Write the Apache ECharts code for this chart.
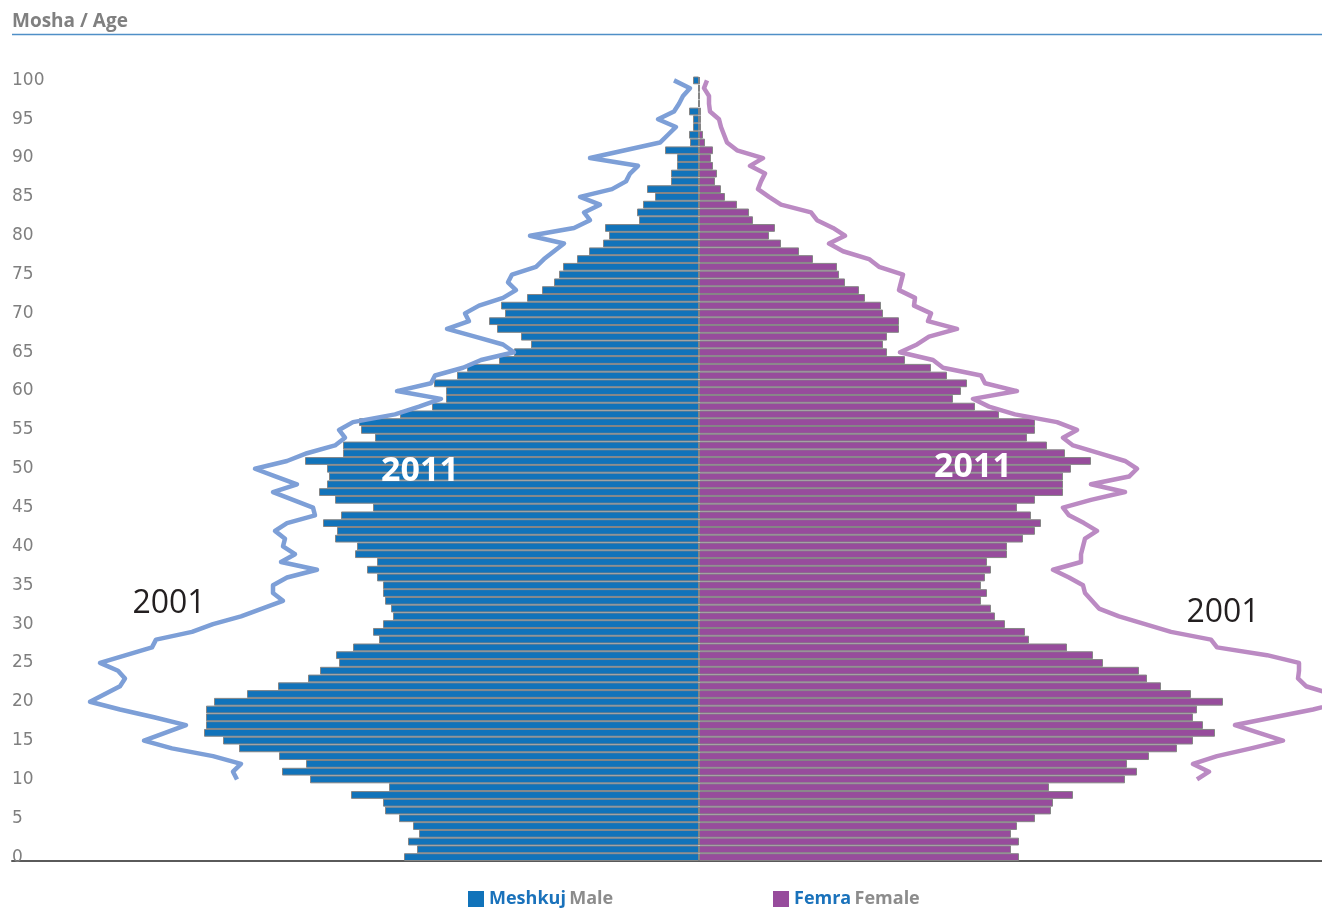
<!DOCTYPE html>
<html>
<head>
<meta charset="utf-8">
<title>Mosha / Age</title>
<script src="https://cdn.jsdelivr.net/npm/echarts@6/dist/echarts.min.js"></script>
<style>
  html, body { margin: 0; padding: 0; background: #fff; }
  #chart { width: 1322px; height: 909px; }
</style>
</head>
<body>
<div id="chart"></div>
<script>
// age groups 0..100 (single years)
var ages = [];
for (var a = 0; a <= 100; a++) ages.push(String(a));

// 2011, males (relative size)
var male2011 = [
  295, 282, 291, 280, 286, 300, 314, 316, 348, 310,
  389, 417, 393, 420, 460, 476, 495, 493, 493, 493,
  485, 452, 421, 391, 379, 360, 363, 346, 320, 326,
  316, 306, 308, 314, 316, 316, 322, 332, 322, 344,
  342, 364, 362, 376, 358, 326, 364, 380, 372, 370,
  372, 394, 356, 356, 324, 338, 340, 299, 267, 253,
  253, 265, 242, 232, 200, 185, 168, 178, 202, 210,
  194, 198, 172, 157, 145, 140, 136, 122, 110, 96,
  90, 94, 60, 62, 56, 44, 52, 28, 28, 22,
  22, 34, 9, 10, 6, 6, 10, 1, 1, 1,
  6
];

// 2011, females
var female2011 = [
  320, 312, 320, 312, 318, 336, 352, 354, 374, 350,
  426, 438, 428, 450, 478, 494, 516, 504, 494, 498,
  524, 492, 462, 448, 440, 404, 394, 368, 330, 326,
  306, 296, 292, 282, 288, 282, 286, 292, 288, 308,
  308, 324, 336, 342, 332, 318, 336, 364, 364, 364,
  372, 392, 366, 348, 328, 336, 336, 300, 276, 254,
  262, 268, 248, 232, 206, 188, 184, 188, 200, 200,
  184, 182, 166, 160, 146, 140, 138, 114, 100, 82,
  70, 76, 54, 50, 38, 26, 22, 16, 18, 14,
  12, 14, 6, 4, 2, 2, 2, 1, 1, 1,
  1
];

// 2001 outline, shifted by ten years (ages 10..100)
var male2001 = [
  462, 466, 458, 486, 527, 555, 534, 513, 545, 579,
  609, 594, 579, 574, 581, 599, 573, 547, 543, 507,
  486, 458, 437, 416, 426, 426, 412, 382, 418, 404,
  416, 414, 424, 412, 384, 386, 406, 426, 402, 423,
  444, 412, 392, 364, 354, 360, 346, 304, 280, 258,
  302, 268, 264, 236, 218, 185, 196, 224, 252, 230,
  234, 220, 196, 183, 191, 187, 163, 155, 145, 135,
  169, 125, 109, 115, 99, 119, 87, 73, 69, 61,
  109, 74, 39, 31, 23, 41, 25, 20, 16, 9,
  25
];

var female2001 = [
  498, 510, 494, 518, 552, 584, 560, 536, 575, 614,
  645, 632, 607, 599, 600, 600, 568, 518, 512, 472,
  446, 420, 400, 393, 386, 384, 370, 354, 382, 382,
  384, 386, 398, 385, 370, 364, 392, 426, 392, 430,
  438, 426, 400, 374, 364, 378, 358, 316, 290, 274,
  318, 286, 282, 244, 234, 201, 218, 230, 258, 229,
  232, 215, 216, 200, 202, 204, 180, 170, 144, 130,
  146, 134, 118, 112, 82, 70, 59, 62, 66, 51,
  64, 38, 28, 25, 22, 20, 11, 10, 10, 5,
  8
];

var startAge2001 = 10;

function pad2001(arr, sign) {
  var out = [];
  for (var i = 0; i < startAge2001; i++) out.push('-');
  arr.forEach(function (v) { out.push(sign * v); });
  return out;
}

var chart = echarts.init(document.getElementById('chart'));

var legendRich = {
  a: { color: '#1a72bb', fontSize: 18, fontWeight: 'bold', fontFamily: 'Open Sans' },
  b: { color: '#8c8c8c', fontSize: 18, fontWeight: 'bold', fontFamily: 'Open Sans' }
};

var option = {
  animation: false,
  backgroundColor: '#fff',
  grid: { left: 12, right: 0, top: 76.5, bottom: 48, containLabel: false },
  legend: [
    {
      data: ['Meshkuj'], left: 468, top: 890, padding: 0, icon: 'rect',
      itemWidth: 16, itemHeight: 16, itemGap: 5, selectedMode: false,
      itemStyle: { borderWidth: 0 },
      formatter: function () { return '{a|Meshkuj} {b|Male}'; },
      textStyle: { rich: legendRich }
    },
    {
      data: ['Femra'], left: 773, top: 890, padding: 0, icon: 'rect',
      itemWidth: 16, itemHeight: 16, itemGap: 5, selectedMode: false,
      itemStyle: { borderWidth: 0 },
      formatter: function () { return '{a|Femra} {b|Female}'; },
      textStyle: { rich: legendRich }
    }
  ],
  xAxis: {
    type: 'value',
    min: -687,
    max: 623,
    axisLine: { show: true, lineStyle: { color: '#5a5a5a', width: 2 } },
    axisTick: { show: false },
    axisLabel: { show: false },
    splitLine: { show: false }
  },
  yAxis: {
    type: 'category',
    data: ages,
    boundaryGap: true,
    axisLine: { show: false },
    axisTick: { show: false },
    axisLabel: {
      inside: true,
      margin: 0,
      align: 'left',
      interval: 4,
      color: '#7f7f7f',
      fontSize: 17,
      fontFamily: 'DejaVu Sans',
      padding: [0, 0, 15, 0]
    },
    splitLine: { show: false }
  },
  series: [
    {
      name: 'Meshkuj',
      type: 'bar',
      barGap: '-100%',
      barCategoryGap: 0,
      data: male2011.map(function (v) { return -v; }),
      itemStyle: { color: '#1173ba', borderColor: '#858585', borderWidth: 1 }
    },
    {
      name: 'Femra',
      type: 'bar',
      barGap: '-100%',
      barCategoryGap: 0,
      data: female2011,
      itemStyle: { color: '#974c9c', borderColor: '#858585', borderWidth: 1 }
    },
    {
      name: 'Meshkuj 2001',
      type: 'line',
      data: pad2001(male2001, -1),
      symbol: 'none',
      clip: true,
      lineStyle: { color: '#7d9fd7', width: 4.5, join: 'round' },
      z: 5
    },
    {
      name: 'Femra 2001',
      type: 'line',
      data: pad2001(female2001, 1),
      symbol: 'none',
      clip: true,
      lineStyle: { color: '#bb8ac3', width: 4.5, join: 'round' },
      z: 5
    }
  ],
  graphic: [
    {
      type: 'text', left: 12, top: 12,
      style: { text: 'Mosha / Age', fill: '#808080', font: 'bold 19px "Open Sans"' }
    },
    {
      type: 'line', shape: { x1: 12, y1: 34.5, x2: 1322, y2: 34.5 },
      style: { stroke: '#4f8fc7', lineWidth: 1.5 }
    },
    {
      type: 'text', x: 420, y: 471, z: 10,
      style: { text: '2011', fill: '#fff', font: 'bold 34px "Open Sans"', textAlign: 'center', textVerticalAlign: 'middle' }
    },
    {
      type: 'text', x: 973, y: 467, z: 10,
      style: { text: '2011', fill: '#fff', font: 'bold 34px "Open Sans"', textAlign: 'center', textVerticalAlign: 'middle' }
    },
    {
      type: 'text', x: 169, y: 604, z: 10,
      style: { text: '2001', fill: '#231f20', font: '32px "Open Sans"', textAlign: 'center', textVerticalAlign: 'middle' }
    },
    {
      type: 'text', x: 1223, y: 613, z: 10,
      style: { text: '2001', fill: '#231f20', font: '32px "Open Sans"', textAlign: 'center', textVerticalAlign: 'middle' }
    }
  ]
};

chart.setOption(option);
</script>
</body>
</html>
